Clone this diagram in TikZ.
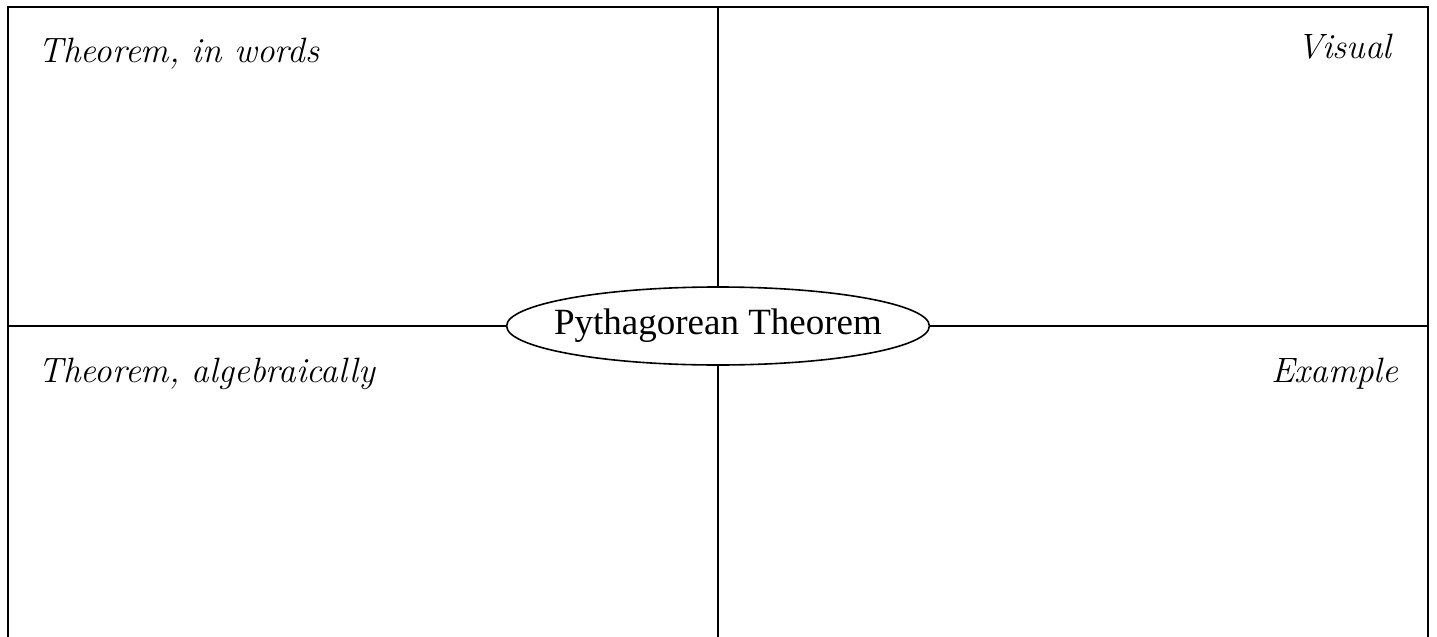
\documentclass[tikz,border=0pt]{standalone}
\usepackage{fontspec}
\newfontfamily\titlefont{Liberation Serif}
\usetikzlibrary{shapes.geometric}

\begin{document}
\begin{tikzpicture}[
  x=0.5bp, y=-0.5bp,
  frame/.style={line width=1bp},
  divider/.style={line width=0.8bp},
  title/.style={draw, ellipse, line width=0.8bp, minimum height=39bp, inner xsep=-7.2bp, inner ysep=0pt, font=\titlefont\fontsize{18.5bp}{22bp}\selectfont},
  label/.style={inner sep=0pt, font=\itshape\fontsize{17.6bp}{20bp}\selectfont}
]
\useasboundingbox (0,0) rectangle (1437,637);
% corners of the frame
\coordinate (bl) at (8,637);
\coordinate (tl) at (8,7);
\coordinate (tr) at (1428,7);
\coordinate (br) at (1428,637);
\coordinate (top) at (718,7);
\coordinate (bottom) at (718,637);
\coordinate (left) at (8,326);
\coordinate (right) at (1428,326);
\node[title] (pyth) at (718,326) {Pythagorean Theorem};
\node[label, anchor=base west] (words) at (38,63) {Theorem, in words};
\node[label, anchor=base east] (visual) at (1392,59) {Visual};
\node[label, anchor=base west] (algebra) at (38,382) {Theorem, algebraically};
\node[label, anchor=base east] (example) at (1399,382) {Example};
\draw[frame] (bl) -- (tl) -- (tr) -- (br);
\draw[divider] (top) -- (pyth.north);
\draw[divider] (pyth.south) -- (bottom);
\draw[divider] (left) -- (pyth.west);
\draw[divider] (pyth.east) -- (right);
\end{tikzpicture}
\end{document}
